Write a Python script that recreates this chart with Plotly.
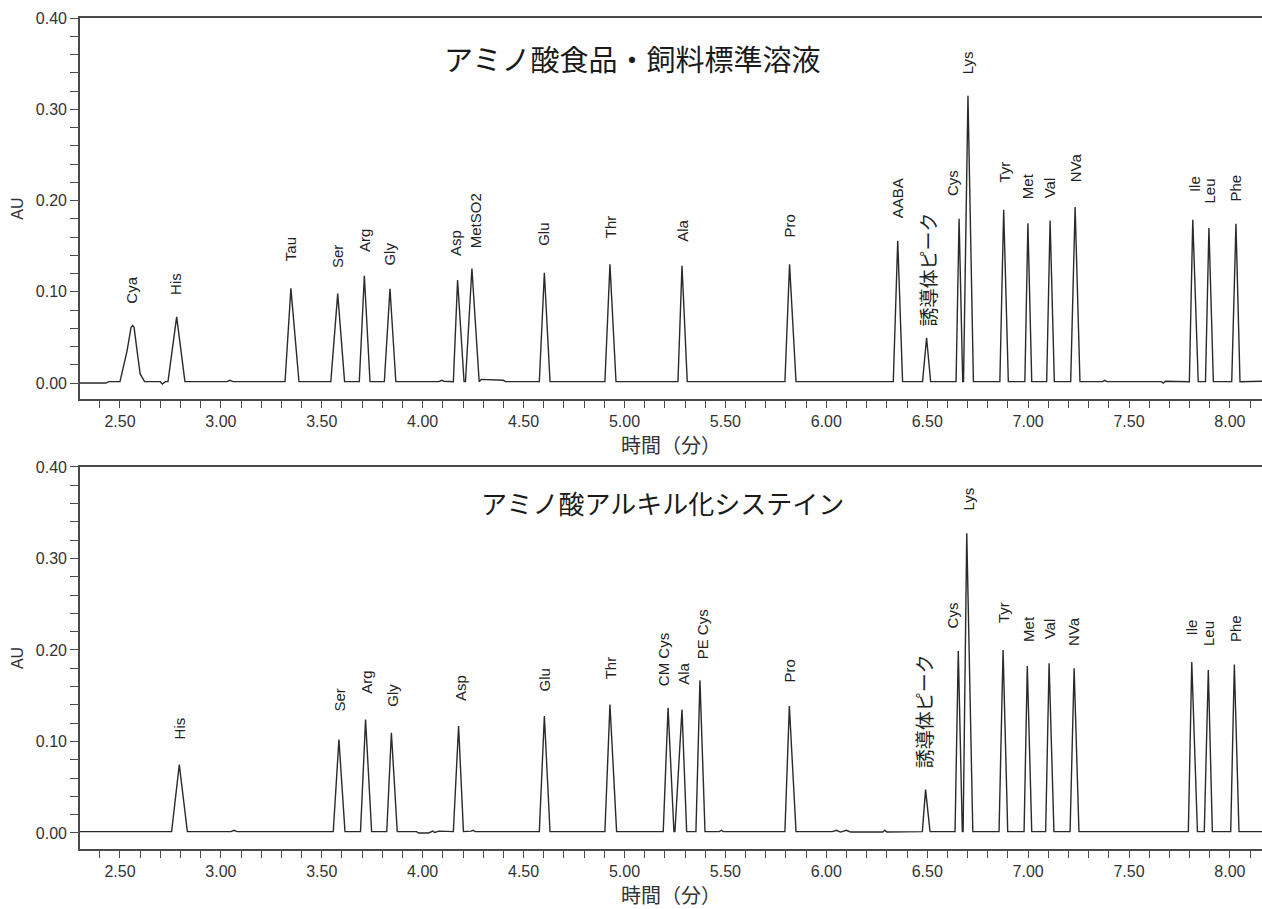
import plotly.graph_objects as go

# ---------------- data ----------------
# top panel: amino acid food/feed standard
top_names = ["Cya", "His", "Tau", "Ser", "Arg", "Gly", "Asp", "MetSO2", "Glu", "Thr", "Ala", "Pro",
             "AABA", "誘導体ピーク", "Cys", "Lys", "Tyr", "Met", "Val", "NVa", "Ile", "Leu", "Phe"]
top_start = [2.500, 2.738, 3.318, 3.545, 3.686, 3.810, 4.152, 4.212, 4.578, 4.903, 5.265, 5.795,
             6.332, 6.477, 6.643, 6.680, 6.860, 6.984, 7.092, 7.211, 7.799, 7.879, 8.009]
top_apex = [2.563, 2.781, 3.347, 3.579, 3.711, 3.838, 4.173, 4.244, 4.603, 4.928, 5.285, 5.818,
            6.354, 6.497, 6.658, 6.702, 6.879, 6.999, 7.109, 7.233, 7.816, 7.896, 8.030]
top_end = [2.622, 2.822, 3.387, 3.613, 3.739, 3.867, 4.205, 4.280, 4.631, 4.958, 5.311, 5.850,
           6.378, 6.517, 6.676, 6.729, 6.902, 7.018, 7.130, 7.257, 7.843, 7.918, 8.050]
top_height = [0.063, 0.0726, 0.1037, 0.098, 0.1175, 0.1033, 0.1128, 0.1256, 0.1208, 0.130, 0.1285, 0.130,
              0.156, 0.0496, 0.180, 0.3147, 0.190, 0.175, 0.178, 0.193, 0.179, 0.170, 0.1745]
top_label_t = [2.558, 2.776, 3.346, 3.579, 3.714, 3.838, 4.160, 4.259, 4.598, 4.928, 5.287, 5.817,
               6.354, 6.500, 6.629, 6.704, 6.881, 6.998, 7.105, 7.236, 7.822, 7.901, 8.029]
top_label_au = [0.085, 0.094, 0.131, 0.124, 0.142, 0.127, 0.137, 0.146, 0.148, 0.157, 0.153, 0.157,
                0.178, 0.060, 0.203, 0.336, 0.217, 0.199, 0.200, 0.218, 0.207, 0.195, 0.197]
top_base_t = [2.30, 2.43, 2.445, 2.535, 2.545, 2.555, 2.570, 2.585, 2.600, 2.70, 2.71, 2.725,
              3.03, 3.045, 3.06, 4.08, 4.095, 4.105, 4.29, 4.40, 4.41, 7.37, 7.38, 7.39,
              7.66, 7.67, 7.68, 8.16]
top_base_au = [0.000, 0.000, 0.0015, 0.035, 0.050, 0.061, 0.061, 0.035, 0.010, 0.0015, -0.001, 0.0015,
               0.0015, 0.003, 0.0015, 0.0015, 0.003, 0.002, 0.004, 0.003, 0.0015, 0.0015, 0.003, 0.0015,
               0.0015, 0.000, 0.002, 0.002]

# bottom panel: alkylated cysteine
bot_names = ["His", "Ser", "Arg", "Gly", "Asp", "Glu", "Thr", "CM Cys", "Ala", "PE Cys", "Pro",
             "誘導体ピーク", "Cys", "Lys", "Tyr", "Met", "Val", "NVa", "Ile", "Leu", "Phe"]
bot_start = [2.756, 3.557, 3.692, 3.822, 4.152, 4.578, 4.903, 5.192, 5.250, 5.354, 5.795,
             6.476, 6.638, 6.678, 6.856, 6.980, 7.087, 7.208, 7.794, 7.873, 8.004]
bot_apex = [2.794, 3.585, 3.717, 3.845, 4.178, 4.603, 4.928, 5.216, 5.285, 5.374, 5.817,
            6.492, 6.654, 6.696, 6.876, 6.996, 7.104, 7.228, 7.811, 7.893, 8.022]
bot_end = [2.834, 3.615, 3.747, 3.874, 4.202, 4.631, 4.961, 5.245, 5.308, 5.399, 5.850,
           6.514, 6.674, 6.726, 6.899, 7.018, 7.128, 7.252, 7.839, 7.913, 8.045]
bot_height = [0.0748, 0.102, 0.124, 0.1095, 0.1168, 0.1277, 0.1405, 0.1369, 0.135, 0.1668, 0.1387,
              0.0474, 0.199, 0.3277, 0.200, 0.1825, 0.1854, 0.180, 0.1869, 0.178, 0.184]
bot_label_t = [2.797, 3.590, 3.722, 3.846, 4.185, 4.606, 4.932, 5.197, 5.291, 5.391, 5.817,
               6.481, 6.626, 6.704, 6.877, 7.001, 7.104, 7.224, 7.811, 7.893, 8.025]
bot_label_au = [0.100, 0.131, 0.150, 0.136, 0.142, 0.153, 0.166, 0.158, 0.160, 0.188, 0.162,
                0.069, 0.221, 0.350, 0.227, 0.207, 0.209, 0.202, 0.2135, 0.202, 0.207]
bot_base_t = [2.30, 3.05, 3.065, 3.08, 3.97, 3.98, 4.03, 4.05, 4.06, 4.08, 4.24, 4.25, 4.26,
              5.47, 5.48, 5.49, 6.03, 6.05, 6.07, 6.10, 6.12, 6.28, 6.29, 6.30, 6.36, 6.37, 8.16]
bot_base_au = [0.0015, 0.0015, 0.003, 0.0015, 0.0015, 0.000, 0.000, 0.002, 0.0005, 0.002, 0.002, 0.003,
               0.0015, 0.0015, 0.003, 0.0015, 0.0015, 0.003, 0.001, 0.003, 0.001, 0.001, 0.003, 0.001,
               0.001, 0.0015, 0.0015]
peak_foot = 0.0015

panel_titles = ["アミノ酸食品・飼料標準溶液", "アミノ酸アルキル化システイン"]
x_tick_vals = [2.5, 3.0, 3.5, 4.0, 4.5, 5.0, 5.5, 6.0, 6.5, 7.0, 7.5, 8.0]
y_tick_vals = [0.0, 0.1, 0.2, 0.3, 0.4]


def trace_points(start, apex, end, height, base_t, base_au):
    pts = []
    for s, a, e, h in zip(start, apex, end, height):
        pts += [(s, peak_foot), (a, h), (e, peak_foot)]
    pts += list(zip(base_t, base_au))
    pts.sort(key=lambda p: p[0])
    return [p[0] for p in pts], [p[1] for p in pts]


tx, ty = trace_points(top_start, top_apex, top_end, top_height, top_base_t, top_base_au)
bx, by = trace_points(bot_start, bot_apex, bot_end, bot_height, bot_base_t, bot_base_au)

LINE = "#2a2a2a"
AXC = "#4a4a4a"
TXT = "#333333"
LAT = "Liberation Sans, Arial, sans-serif"
JP = "Noto Sans CJK JP, sans-serif"

fig = go.Figure()
fig.add_trace(go.Scatter(x=tx, y=ty, mode="lines", line=dict(color=LINE, width=1.4),
                         xaxis="x", yaxis="y", showlegend=False, hoverinfo="skip"))
fig.add_trace(go.Scatter(x=bx, y=by, mode="lines", line=dict(color=LINE, width=1.4),
                         xaxis="x2", yaxis="y2", showlegend=False, hoverinfo="skip"))

xax = dict(range=[2.302, 8.159], tickvals=x_tick_vals, tickformat=".2f",
           ticks="outside", ticklen=7, tickwidth=1.2, tickcolor=AXC,
           minor=dict(dtick=0.1, tick0=0, ticks="outside", ticklen=7, tickwidth=1.2, tickcolor=AXC),
           showline=True, linecolor=AXC, linewidth=1.6, mirror=True,
           showgrid=False, zeroline=False,
           tickfont=dict(family=LAT, size=16, color=TXT),
           title=dict(text="時間（分）", font=dict(family=JP, size=20, color=TXT), standoff=2))
yax = dict(range=[-0.0175, 0.40], tickvals=y_tick_vals, tickformat=".2f",
           ticks="outside", ticklen=8, tickwidth=1.2, tickcolor=AXC,
           minor=dict(dtick=0.02, tick0=0, ticks="outside", ticklen=8, tickwidth=1.2, tickcolor=AXC),
           showline=True, linecolor=AXC, linewidth=1.6,
           showgrid=False, zeroline=False,
           tickfont=dict(family=LAT, size=16, color=TXT),
           title=dict(text="AU", font=dict(family=LAT, size=16, color=TXT), standoff=8))

annotations = []
for names, lt, la, xr, yr in [(top_names, top_label_t, top_label_au, "x", "y"),
                              (bot_names, bot_label_t, bot_label_au, "x2", "y2")]:
    for n, t, a in zip(names, lt, la):
        jp = n == "誘導体ピーク"
        annotations.append(dict(x=t, y=a, xref=xr, yref=yr, text=n, showarrow=False,
                                textangle=-90, xanchor="center", yanchor="bottom",
                                font=dict(family=JP if jp else LAT, size=19 if jp else 15,
                                          color="#222222")))

annotations.append(dict(x=0.467, y=0.952, xref="paper", yref="paper", text=panel_titles[0],
                        showarrow=False, xanchor="center", yanchor="middle",
                        font=dict(family=JP, size=29, color="#1a1a1a")))
annotations.append(dict(x=0.493, y=0.4164, xref="paper", yref="paper", text=panel_titles[1],
                        showarrow=False, xanchor="center", yanchor="middle",
                        font=dict(family=JP, size=26, color="#1a1a1a")))

fig.update_layout(
    width=1262, height=909,
    margin=dict(l=80, r=0, t=18, b=60),
    paper_bgcolor="white", plot_bgcolor="white",
    template="none",
    xaxis=dict(xax, domain=[0, 1], anchor="y"),
    yaxis=dict(yax, domain=[0.5415, 1.0], anchor="x"),
    xaxis2=dict(xax, domain=[0, 1], anchor="y2"),
    yaxis2=dict(yax, domain=[0.0, 0.4597], anchor="x2"),
    annotations=annotations,
    showlegend=False,
)

fig.write_html("out.html", config={"displayModeBar": False},
               post_script="document.body.style.margin='0';")
